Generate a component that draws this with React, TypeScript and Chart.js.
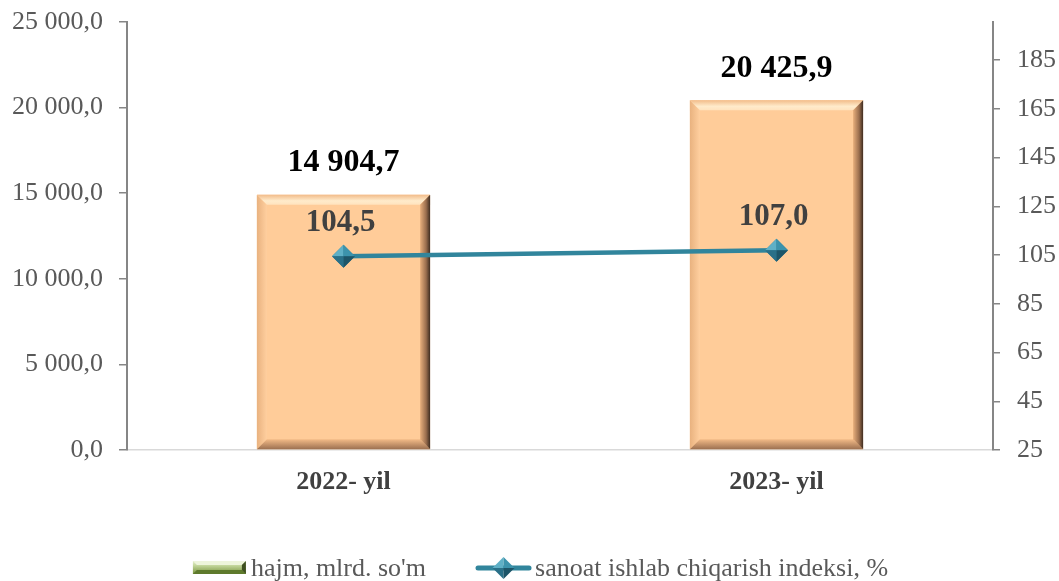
import React, { useEffect, useRef } from "react";
import { Chart, registerables } from "chart.js";

Chart.register(...registerables);

const categories = ["2022- yil", "2023- yil"];
const volumeValues = [14904.7, 20425.9];
const indexValues = [104.5, 107.0];
const leftTicks = [0, 5000, 10000, 15000, 20000, 25000];
const rightTicks = [25, 45, 65, 85, 105, 125, 145, 165, 185];
const seriesNames = ["hajm, mlrd. so'm", "sanoat ishlab chiqarish indeksi, %"];

const FONT = "'Liberation Serif', 'Times New Roman', serif";

function fmt(v: number): string {
  const [i, d] = v.toFixed(1).split(".");
  return i.replace(/\B(?=(\d{3})+(?!\d))/g, " ") + "," + d;
}

function drawDiamond(g: CanvasRenderingContext2D, x: number, y: number, r: number) {
  g.save();
  g.fillStyle = "#5FB0C6";
  g.beginPath(); g.moveTo(x, y - r); g.lineTo(x - r, y); g.lineTo(x, y); g.closePath(); g.fill();
  g.fillStyle = "#3C93AC";
  g.beginPath(); g.moveTo(x, y - r); g.lineTo(x + r, y); g.lineTo(x, y); g.closePath(); g.fill();
  g.fillStyle = "#2A7088";
  g.beginPath(); g.moveTo(x - r, y); g.lineTo(x, y + r); g.lineTo(x, y); g.closePath(); g.fill();
  g.fillStyle = "#1D5568";
  g.beginPath(); g.moveTo(x + r, y); g.lineTo(x, y + r); g.lineTo(x, y); g.closePath(); g.fill();
  g.restore();
}

function drawBarIcon(g: CanvasRenderingContext2D, x: number, y: number, w: number, h: number) {
  g.save();
  const gr = g.createLinearGradient(0, y, 0, y + h);
  gr.addColorStop(0, "#E6F0D0");
  gr.addColorStop(0.35, "#C3D69B");
  gr.addColorStop(1, "#77933C");
  g.fillStyle = gr;
  g.fillRect(x, y, w, h);
  const s = 4;
  g.fillStyle = "#EEF5DC";
  g.beginPath(); g.moveTo(x, y); g.lineTo(x + w, y); g.lineTo(x + w - s, y + s); g.lineTo(x + s, y + s); g.closePath(); g.fill();
  g.fillStyle = "#5E7A2C";
  g.beginPath(); g.moveTo(x, y + h); g.lineTo(x + w, y + h); g.lineTo(x + w - s, y + h - s); g.lineTo(x + s, y + h - s); g.closePath(); g.fill();
  g.fillStyle = "#3F5020";
  g.beginPath(); g.moveTo(x + w, y); g.lineTo(x + w, y + h); g.lineTo(x + w - s, y + h - s); g.lineTo(x + w - s, y + s); g.closePath(); g.fill();
  g.restore();
}

const bevelPlugin = {
  id: "bevelBars",
  afterDatasetDraw(chart: any, args: any) {
    if (args.index !== 0) return;
    const ctx: CanvasRenderingContext2D = chart.ctx;
    const meta = chart.getDatasetMeta(0);
    meta.data.forEach((el: any) => {
      const p = el.getProps(["x", "y", "base", "width"], true);
      const l = p.x - p.width / 2;
      const r = p.x + p.width / 2;
      const t = Math.min(p.y, p.base);
      const b = Math.max(p.y, p.base);
      const s = 10;
      ctx.save();
      let gr = ctx.createLinearGradient(l, 0, l + s, 0);
      gr.addColorStop(0, "#E9B27F");
      gr.addColorStop(1, "#FFCF9F");
      ctx.fillStyle = gr;
      ctx.beginPath(); ctx.moveTo(l, t); ctx.lineTo(l + s, t + s); ctx.lineTo(l + s, b - s); ctx.lineTo(l, b); ctx.closePath(); ctx.fill();
      gr = ctx.createLinearGradient(0, t, 0, t + s);
      gr.addColorStop(0, "#F2BC8A");
      gr.addColorStop(0.6, "#FFEBCB");
      gr.addColorStop(1, "#FFE2BD");
      ctx.fillStyle = gr;
      ctx.beginPath(); ctx.moveTo(l, t); ctx.lineTo(r, t); ctx.lineTo(r - s, t + s); ctx.lineTo(l + s, t + s); ctx.closePath(); ctx.fill();
      gr = ctx.createLinearGradient(0, b - s, 0, b);
      gr.addColorStop(0, "#F3BB87");
      gr.addColorStop(1, "#9C7050");
      ctx.fillStyle = gr;
      ctx.beginPath(); ctx.moveTo(l, b); ctx.lineTo(r, b); ctx.lineTo(r - s, b - s); ctx.lineTo(l + s, b - s); ctx.closePath(); ctx.fill();
      gr = ctx.createLinearGradient(r - s, 0, r, 0);
      gr.addColorStop(0, "#E8AF7C");
      gr.addColorStop(0.6, "#9A6E4E");
      gr.addColorStop(1, "#3E2C20");
      ctx.fillStyle = gr;
      ctx.beginPath(); ctx.moveTo(r, t); ctx.lineTo(r, b); ctx.lineTo(r - s, b - s); ctx.lineTo(r - s, t + s); ctx.closePath(); ctx.fill();
      ctx.restore();
    });
  },
};

const markerPlugin = {
  id: "diamondShade",
  afterDatasetDraw(chart: any, args: any) {
    if (args.index !== 1) return;
    const ctx: CanvasRenderingContext2D = chart.ctx;
    chart.getDatasetMeta(1).data.forEach((el: any) => {
      const p = el.getProps(["x", "y"], true);
      drawDiamond(ctx, p.x, p.y, 11.5);
    });
  },
};

const labelPlugin = {
  id: "valueLabels",
  afterDatasetsDraw(chart: any) {
    const ctx: CanvasRenderingContext2D = chart.ctx;
    ctx.save();
    ctx.textAlign = "center";
    ctx.textBaseline = "middle";
    ctx.font = `bold 32px ${FONT}`;
    chart.getDatasetMeta(0).data.forEach((el: any, i: number) => {
      const p = el.getProps(["x", "y"], true);
      ctx.fillStyle = "#000000";
      ctx.fillText(fmt(volumeValues[i]), p.x, p.y - 32);
    });
    ctx.font = `bold 31px ${FONT}`;
    chart.getDatasetMeta(1).data.forEach((el: any, i: number) => {
      const p = el.getProps(["x", "y"], true);
      ctx.fillStyle = "#404040";
      ctx.fillText(fmt(indexValues[i]), p.x - 3, p.y - 33);
    });
    ctx.restore();
  },
};

const legendPlugin = {
  id: "customLegend",
  afterDraw(chart: any) {
    const ctx: CanvasRenderingContext2D = chart.ctx;
    ctx.save();
    ctx.font = `26px ${FONT}`;
    ctx.fillStyle = "#595959";
    ctx.textBaseline = "middle";
    ctx.textAlign = "left";
    const barW = 53, lineW = 57, gapText1 = 5, gapText2 = 3, gapItems = 49;
    const t1 = ctx.measureText(seriesNames[0]).width;
    const t2 = ctx.measureText(seriesNames[1]).width;
    const total = barW + gapText1 + t1 + gapItems + lineW + gapText2 + t2;
    const cy = chart.height - 13;
    let x = chart.width / 2 + 11 - total / 2;
    drawBarIcon(ctx, x, cy - 7, barW, 13);
    x += barW + gapText1;
    ctx.fillText(seriesNames[0], x, cy + 1);
    x += t1 + gapItems;
    ctx.strokeStyle = "#31859C";
    ctx.lineWidth = 5;
    ctx.lineCap = "round";
    ctx.beginPath(); ctx.moveTo(x + 3, cy); ctx.lineTo(x + lineW - 3, cy); ctx.stroke();
    drawDiamond(ctx, x + lineW / 2, cy, 11);
    x += lineW + gapText2;
    ctx.fillStyle = "#595959";
    ctx.fillText(seriesNames[1], x, cy + 1);
    ctx.restore();
  },
};

export default function App() {
  const ref = useRef<HTMLCanvasElement | null>(null);

  useEffect(() => {
    document.body.style.margin = "0";
    if (!ref.current) return;

    const chart = new Chart(ref.current, {
      type: "bar",
      data: {
        labels: categories,
        datasets: [
          {
            type: "bar",
            label: seriesNames[0],
            data: volumeValues,
            yAxisID: "y",
            backgroundColor: "#FFCC99",
            borderWidth: 0,
            barPercentage: 0.8,
            categoryPercentage: 0.5,
            order: 1,
          },
          {
            type: "line",
            label: seriesNames[1],
            data: indexValues,
            yAxisID: "y1",
            borderColor: "#31859C",
            backgroundColor: "#2F7D95",
            borderWidth: 4.5,
            pointStyle: "rectRot",
            pointRadius: 11.5,
            pointBorderWidth: 0,
            pointBackgroundColor: "#2F7D95",
            order: 0,
          } as any,
        ],
      },
      options: {
        responsive: false,
        animation: false,
        layout: { padding: { top: 22, left: 0, right: 0, bottom: 60 } },
        plugins: {
          tooltip: { enabled: false },
          legend: { display: false },
        },
        scales: {
          x: {
            grid: { display: false, drawTicks: false },
            border: { display: true, color: "#D9D9D9", width: 1.5 },
            ticks: {
              color: "#404040",
              font: { family: FONT, size: 26, weight: "bold" },
              padding: 17,
            },
            afterFit: (s: any) => { s.height = 71; s.paddingLeft = 0; s.paddingRight = 0; },
          },
          y: {
            position: "left",
            min: 0,
            max: 25000,
            afterBuildTicks: (s: any) => { s.ticks = leftTicks.map((v) => ({ value: v })); },
            grid: { display: true, drawOnChartArea: false, drawTicks: true, tickLength: 8, color: "#868686", lineWidth: 1.5 },
            border: { display: true, color: "#868686", width: 2 },
            ticks: {
              color: "#595959",
              font: { family: FONT, size: 26 },
              padding: 16,
              callback: (v: any) => fmt(Number(v)),
            },
            afterFit: (s: any) => { s.width = 127; s.paddingTop = 0; s.paddingBottom = 0; },
          },
          y1: {
            position: "right",
            min: 25,
            max: 200.6,
            afterBuildTicks: (s: any) => { s.ticks = rightTicks.map((v) => ({ value: v })); },
            grid: { display: true, drawOnChartArea: false, drawTicks: true, tickLength: 7, color: "#868686", lineWidth: 1.5 },
            border: { display: true, color: "#868686", width: 2 },
            ticks: {
              color: "#595959",
              font: { family: FONT, size: 26 },
              padding: 17,
              callback: (v: any) => String(v),
            },
            afterFit: (s: any) => { s.width = 66; s.paddingTop = 0; s.paddingBottom = 0; },
          },
        },
      },
      plugins: [bevelPlugin, markerPlugin, labelPlugin, legendPlugin],
    });

    return () => chart.destroy();
  }, []);

  return (
    <div style={{ width: 1059, height: 581 }}>
      <canvas ref={ref} width={1059} height={581} />
    </div>
  );
}
